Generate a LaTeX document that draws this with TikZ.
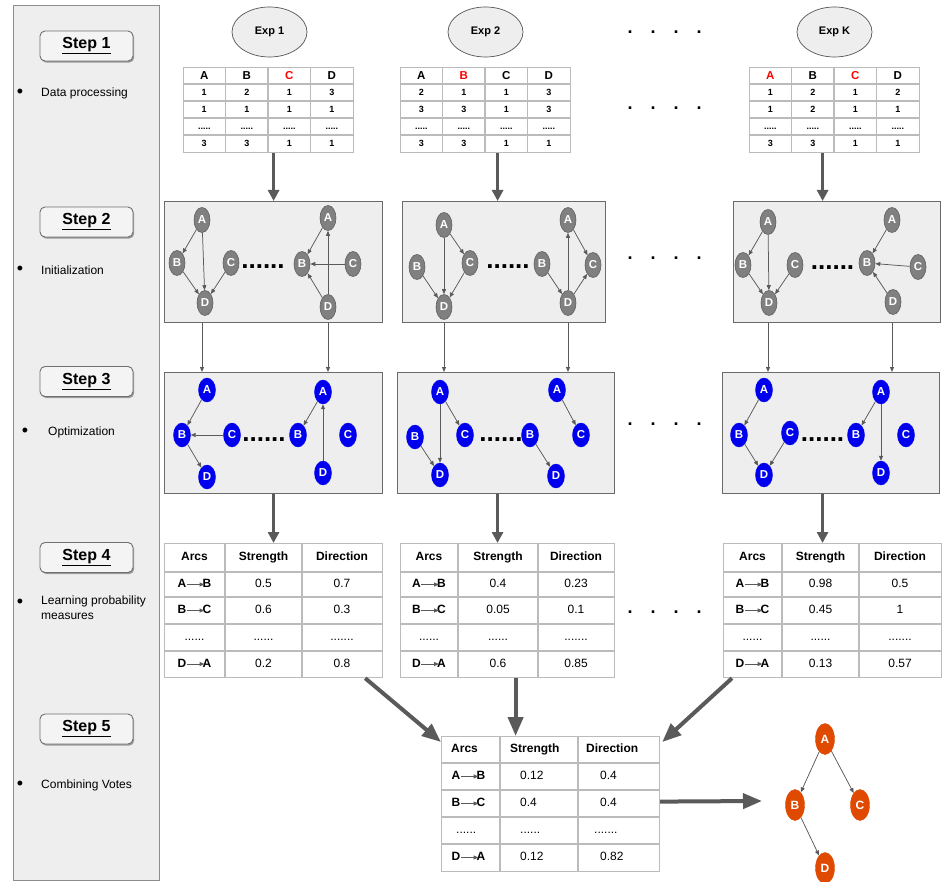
\documentclass[tikz,border=0pt]{standalone}
\usepackage{fontspec}
\setmainfont{Liberation Sans}
\usetikzlibrary{shapes.geometric,arrows.meta,shadows}
\definecolor{panelc}{HTML}{EEEEEE}
\definecolor{panelline}{HTML}{8C8C8C}
\definecolor{stepfill}{HTML}{F4F4F4}
\definecolor{stepline}{HTML}{707070}
\definecolor{expline}{HTML}{555555}
\definecolor{tblc}{HTML}{BBBBBB}
\definecolor{boxline}{HTML}{6A6A6A}
\definecolor{arrowc}{HTML}{5A5A5A}
\definecolor{gnodec}{HTML}{808080}
\definecolor{gnodeb}{HTML}{5F5F5F}
\definecolor{bnodec}{HTML}{0000EE}
\definecolor{onodec}{HTML}{E04A00}
\definecolor{hired}{HTML}{FF0000}
\newcommand\myfs[1]{\fontsize{#1}{#1}\selectfont}
\newcommand\fived{.....}
\newcommand\sixd{......}
\newcommand\sevend{.......}

\tikzset{
  panelbox/.style={draw=panelline, fill=panelc, line width=0.8pt, inner sep=0pt, anchor=north west},
  stepbox/.style={draw=stepline, fill=stepfill, rounded corners=5pt, minimum width=93pt, minimum height=30pt, line width=0.9pt, font=\myfs{16}\bfseries, drop shadow={shadow xshift=1.2pt, shadow yshift=-1.6pt, opacity=0.35, fill=black}},
  bul/.style={font=\myfs{18}, inner sep=0pt},
  btext/.style={anchor=west, font=\myfs{12}, inner sep=0pt, align=left},
  expnode/.style={ellipse, draw=expline, fill=panelc, minimum width=75pt, minimum height=50pt, inner sep=0pt, font=\myfs{11}\bfseries, line width=0.7pt},
  tblframe/.style={draw=tblc, line width=1.2pt, inner sep=0pt, anchor=north west},
  tgrid/.style={draw=tblc, line width=1.2pt},
  dhdr/.style={font=\myfs{11.5}\bfseries, inner sep=0pt, text height=8.3pt, text depth=0pt},
  dval/.style={font=\myfs{9}\bfseries, inner sep=0pt, text height=6.4pt, text depth=0pt},
  phdr/.style={font=\myfs{12}\bfseries, inner sep=0pt, text height=9pt, text depth=2.6pt},
  pval/.style={font=\myfs{12}, inner sep=0pt, text height=9pt, text depth=2.6pt},
  arcl/.style={font=\myfs{12}\bfseries, inner sep=0.3pt, text height=9pt, text depth=2.6pt},
  arcarrow/.style={draw=arrowc, line width=0.8pt, -{Triangle[length=4.5pt,width=4pt]}, shorten >=-2pt},
  gbox/.style={draw=boxline, fill=panelc, line width=1.1pt, inner sep=0pt, anchor=north west},
  gnode/.style={ellipse, draw=gnodeb, fill=gnodec, minimum width=16pt, minimum height=25pt, inner sep=0pt, text=white, font=\myfs{11.5}\bfseries, line width=0.6pt},
  bnode/.style={ellipse, draw=bnodec, fill=bnodec, minimum width=17pt, minimum height=24pt, inner sep=0pt, text=white, font=\myfs{11.5}\bfseries},
  onode/.style={ellipse, draw=onodec, fill=onodec, minimum width=19pt, minimum height=31pt, inner sep=0pt, text=white, font=\myfs{12}\bfseries},
  garrow/.style={draw=arrowc, line width=0.75pt, -{Triangle[length=5pt,width=4pt]}},
  thinarrow/.style={draw=arrowc, line width=0.8pt, -{Triangle[length=5pt,width=4pt]}},
  bigarrow/.style={draw=arrowc, line width=3.3pt, -{Triangle[length=11pt,width=11pt]}},
  hugearrow/.style={draw=arrowc, line width=4pt, -{Triangle[length=19pt,width=15pt]}},
  bigdots/.style={font=\myfs{26}\bfseries, inner sep=0pt},
  widedots/.style={font=\myfs{18}\bfseries, inner sep=0pt},
}

\newcommand\fourn[6]{%
  \node[#2] (#1A) at (#3) {A};
  \node[#2] (#1B) at (#4) {B};
  \node[#2] (#1C) at (#5) {C};
  \node[#2] (#1D) at (#6) {D};
}
\newcommand\gedges[2]{\foreach \u/\v in {#2} \draw[garrow] (#1\u) -- (#1\v);}

\newcommand\dtable[4]{%
  \node[tblframe, minimum width=170pt, minimum height=85pt] (#1) at (#2,67) {};
  \foreach \k in {1,2,3} \draw[tgrid] ({#2+42.5*\k},67) -- ({#2+42.5*\k},152);
  \foreach \k in {1,2,3,4} \draw[tgrid] (#2,{67+17*\k}) -- ({#2+170},{67+17*\k});
  \foreach \hh/\cc [count=\i] in {#3} \node[dhdr, text=\cc] (#1h\i) at ({#2+42.5*\i-21.25},75.5) {\hh};
  \foreach \va/\vb/\vc/\vd [count=\r] in {#4} {
    \node[dval] (#1v\r-1) at ({#2+21.25},{75.5+17*\r}) {\va};
    \node[dval] (#1v\r-2) at ({#2+63.75},{75.5+17*\r}) {\vb};
    \node[dval] (#1v\r-3) at ({#2+106.25},{75.5+17*\r}) {\vc};
    \node[dval] (#1v\r-4) at ({#2+148.75},{75.5+17*\r}) {\vd};
  }
}

\newcommand\arcpair[5]{%
  \node[arcl] (#1a) at ({#2},#3) {#4};
  \node[arcl] (#1b) at ({#2+25},#3) {#5};
  \draw[arcarrow] (#1a) -- (#1b);
}

\newcommand\ptable[6]{%
  \node[tblframe, minimum width={#5-#2}, minimum height=134pt] (#1) at (#2,543) {};
  \draw[tgrid] (#3,543) -- (#3,677) (#4,543) -- (#4,677);
  \foreach \yy in {572,597,624,651} \draw[tgrid] (#2,\yy) -- (#5,\yy);
  \node[phdr] (#1h1) at ({(#2+#3)/2},557.5) {Arcs};
  \node[phdr] (#1h2) at ({(#3+#4)/2},557.5) {Strength};
  \node[phdr] (#1h3) at ({(#4+#5)/2},557.5) {Direction};
  \arcpair{#1r1}{(#2+#3)/2-12.5}{584.5}{A}{B}
  \arcpair{#1r2}{(#2+#3)/2-12.5}{610.5}{B}{C}
  \node[pval] (#1r3a) at ({(#2+#3)/2},637.5) {......};
  \arcpair{#1r4}{(#2+#3)/2-12.5}{664}{D}{A}
  \foreach \vs/\vd/\yy [count=\r] in {#6} {
    \node[pval] (#1s\r) at ({(#3+#4)/2},\yy) {\vs};
    \node[pval] (#1d\r) at ({(#4+#5)/2},\yy) {\vd};
  }
}

\begin{document}
\begin{tikzpicture}[x=1pt,y=-1pt]
\useasboundingbox (0,0) rectangle (950,882);
\fill[white] (0,0) rectangle (950,882);

% ---------- left panel ----------
\node[panelbox, minimum width=146pt, minimum height=875pt] (panel) at (13,5) {};
\node[stepbox] (st1) at (86.5,46) {\underline{Step 1}};
\node[stepbox] (st2) at (86.5,222) {\underline{Step 2}};
\node[stepbox] (st3) at (86.5,381.5) {\underline{Step 3}};
\node[stepbox] (st4) at (86.5,557.5) {\underline{Step 4}};
\node[stepbox] (st5) at (86.5,729) {\underline{Step 5}};

\node[bul] (bu1) at (20,93) {•};
\node[btext] (tx1) at (41,93) {Data processing};
\node[bul] (bu2) at (20,270) {•};
\node[btext] (tx2) at (41,270) {Initialization};
\node[bul] (bu3) at (25,432) {•};
\node[btext] (tx3) at (48,432) {Optimization};
\node[bul] (bu4) at (20,603) {•};
\node[btext, font=\fontsize{12}{15}\selectfont, anchor=north west] (tx4) at (41,596) {Learning probability\\measures};
\node[bul] (bu5) at (20,785) {•};
\node[btext] (tx5) at (41,785) {Combining Votes};

% ---------- step 1 ----------
\node[expnode] (e1) at (269.5,32) {Exp 1};
\node[expnode] (e2) at (485.5,32) {Exp 2};
\node[expnode] (eK) at (834.5,32) {Exp K};

\dtable{d1}{183}{A/black,B/black,C/hired,D/black}{1/2/1/3,1/1/1/1,\fived/\fived/\fived/\fived,3/3/1/1}
\dtable{d2}{400}{A/black,B/hired,C/black,D/black}{2/1/1/3,3/3/1/3,\fived/\fived/\fived/\fived,3/3/1/1}
\dtable{dK}{749}{A/hired,B/black,C/hired,D/black}{1/2/1/2,1/2/1/1,\fived/\fived/\fived/\fived,3/3/1/1}

\node[widedots] (w1) at (664.5,32) {.\hspace{18pt}.\hspace{18pt}.\hspace{18pt}.};
\node[widedots] (w2) at (664.5,108) {.\hspace{18pt}.\hspace{18pt}.\hspace{18pt}.};

% ---------- step 2 ----------
\node[gbox, minimum width=218pt, minimum height=121pt] (b21) at (164,201) {};
\node[gbox, minimum width=203pt, minimum height=121pt] (b22) at (402,201) {};
\node[gbox, minimum width=207pt, minimum height=121pt] (b23) at (733,201) {};

\fourn{g211}{gnode}{202,220}{177,263}{231,263}{205,303}
\gedges{g211}{A/B,A/D,B/D,C/D}
\fourn{g212}{gnode}{328,218}{302,264}{353,264}{328,307}
\gedges{g212}{A/B,C/B,D/B,D/A}
\fourn{g221}{gnode}{444,225}{417,267}{470,263}{444,307}
\gedges{g221}{A/C,A/D,B/D,C/D}
\fourn{g222}{gnode}{568,220}{542,264}{593,265}{568,303}
\gedges{g222}{B/D,D/A,D/C,A/C}
\fourn{g231}{gnode}{768,222}{743,265}{795,265}{769,303}
\gedges{g231}{A/B,A/D,B/D,C/D}
\fourn{g232}{gnode}{892,220}{867,263}{918,267}{893,302}
\gedges{g232}{A/B,C/B,D/B}

\node[bigdots] (bd21) at (263,267) {......};
\node[bigdots] (bd22) at (508,267) {......};
\node[bigdots] (bd23) at (832.5,268) {......};
\node[widedots] (w3) at (664.5,258) {.\hspace{18pt}.\hspace{18pt}.\hspace{18pt}.};

% ---------- step 3 ----------
\node[gbox, minimum width=218pt, minimum height=121pt] (b31) at (164,372) {};
\node[gbox, minimum width=217pt, minimum height=121pt] (b32) at (397,372) {};
\node[gbox, minimum width=217pt, minimum height=121pt] (b33) at (722,372) {};

\fourn{g311}{bnode}{207,390}{182,435}{232,435}{207,477}
\gedges{g311}{A/B,C/B,B/D}
\fourn{g312}{bnode}{323,392}{298,435}{348,435}{323,473}
\gedges{g312}{A/B,D/A}
\fourn{g321}{bnode}{440,392}{415,437}{465,435}{440,475}
\gedges{g321}{A/C,A/D,B/D}
\fourn{g322}{bnode}{557,390}{530,435}{581,435}{556,476}
\gedges{g322}{B/D,A/C}
\fourn{g331}{bnode}{764,390}{739,435}{790,433}{764,475}
\gedges{g331}{A/B,B/D,C/D}
\fourn{g332}{bnode}{881,392}{856,435}{906,435}{881,473}
\gedges{g332}{A/B,A/D}

\node[bigdots] (bd31) at (264,440) {......};
\node[bigdots] (bd32) at (501,440) {......};
\node[bigdots] (bd33) at (822.5,440) {......};
\node[widedots] (w4) at (664.5,424) {.\hspace{18pt}.\hspace{18pt}.\hspace{18pt}.};

% ---------- step 4 ----------
\ptable{p1}{164}{225}{302}{382}{0.5/0.7/584.5,0.6/0.3/610.5,\sixd/\sevend/637.5,0.2/0.8/664}
\ptable{p2}{400}{458}{538}{614}{0.4/0.23/584.5,0.05/0.1/610.5,\sixd/\sevend/637.5,0.6/0.85/664}
\ptable{p3}{723}{782}{859}{941}{0.98/0.5/584.5,0.45/1/610.5,\sixd/\sevend/637.5,0.13/0.57/664}
\node[widedots] (w5) at (664.5,612) {.\hspace{18pt}.\hspace{18pt}.\hspace{18pt}.};

% ---------- step 5 ----------
\node[tblframe, minimum width=218pt, minimum height=135pt] (ft) at (441,736) {};
\draw[tgrid] (500,736) -- (500,871) (578,736) -- (578,871);
\foreach \yy in {763,790,817,844} \draw[tgrid] (441,\yy) -- (659,\yy);
\node[phdr, anchor=west] (fth1) at (451,749.5) {Arcs};
\node[phdr, anchor=west] (fth2) at (510,749.5) {Strength};
\node[phdr, anchor=west] (fth3) at (586,749.5) {Direction};
\arcpair{fr1}{456}{776.5}{A}{B}
\arcpair{fr2}{456}{803.5}{B}{C}
\arcpair{fr4}{456}{857.5}{D}{A}
\node[pval, anchor=west] (fs1) at (520,776.5) {0.12};
\node[pval, anchor=west] (fd1) at (600,776.5) {0.4};
\node[pval, anchor=west] (fs2) at (520,803.5) {0.4};
\node[pval, anchor=west] (fd2) at (600,803.5) {0.4};
\node[pval, anchor=west] (fa3) at (456,830.5) {......};
\node[pval, anchor=west] (fs3) at (520,830.5) {......};
\node[pval, anchor=west] (fd3) at (594,830.5) {.......};
\node[pval, anchor=west] (fs4) at (520,857.5) {0.12};
\node[pval, anchor=west] (fd4) at (600,857.5) {0.82};

\node[onode] (oA) at (825,739) {A};
\node[onode] (oB) at (795,805) {B};
\node[onode] (oC) at (860,805) {C};
\node[onode] (oD) at (825,868) {D};
\draw[garrow] (oA) -- (oB);
\draw[garrow] (oA) -- (oC);
\draw[garrow] (oB) -- (oD);

% ---------- connectors ----------
\coordinate (a11) at ([xshift=5pt]d1.south);
\coordinate (a12) at ([xshift=12pt]d2.south);
\coordinate (a1K) at ([xshift=-12pt]dK.south);
\draw[bigarrow] (a11) -- (a11 |- b21.north);
\draw[bigarrow] (a12) -- (a12 |- b22.north);
\draw[bigarrow] (a1K) -- (a1K |- b23.north);

\foreach \gp/\bu/\bl in {g211/b21/b31, g212/b21/b31, g221/b22/b32, g222/b22/b32, g231/b23/b33, g232/b23/b33}
  \draw[thinarrow] (\gp A |- \bu.south) -- (\gp A |- \bl.north);

\coordinate (a31) at (b31.south);
\coordinate (a32) at ([xshift=-8.5pt]b32.south);
\coordinate (a33) at ([xshift=-8.5pt]b33.south);
\draw[bigarrow] (a31) -- (a31 |- p1.north);
\draw[bigarrow] (a32) -- (a32 |- p2.north);
\draw[bigarrow] (a33) -- (a33 |- p3.north);

\coordinate (f1s) at ([xshift=-18pt]p1.south east);
\coordinate (f1e) at ([yshift=-6pt]ft.north west);
\draw[hugearrow] (f1s) -- (f1e);
\coordinate (f2s) at ([xshift=8pt]p2.south);
\draw[hugearrow] (f2s) -- (f2s |- ft.north);
\coordinate (f3s) at ([xshift=9pt]p3.south west);
\coordinate (f3e) at ([xshift=2pt,yshift=-6pt]ft.north east);
\draw[hugearrow] (f3s) -- (f3e);
\coordinate (fend) at (762,801);
\draw[hugearrow] ([yshift=2.5pt]ft.east) -- (fend);
\end{tikzpicture}
\end{document}
